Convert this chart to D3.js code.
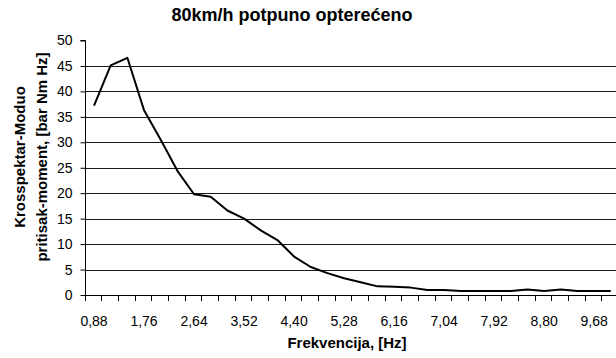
<!DOCTYPE html>
<html>
<head>
<meta charset="utf-8">
<script src="https://cdn.jsdelivr.net/npm/d3@7/dist/d3.min.js"></script>
<style>
  html, body { margin: 0; padding: 0; background: #fff; }
  svg { display: block; font-family: "Liberation Sans", Arial, sans-serif; }
</style>
</head>
<body>
<svg id="chart" width="616" height="358"></svg>
<script>
// Frequency bins [Hz]
const frequencies = [
  0.88, 1.17, 1.47, 1.76, 2.05, 2.35, 2.64, 2.93, 3.23, 3.52, 3.81, 4.11,
  4.40, 4.69, 4.99, 5.28, 5.57, 5.87, 6.16, 6.45, 6.75, 7.04, 7.33, 7.63,
  7.92, 8.21, 8.51, 8.80, 9.09, 9.39, 9.68, 9.97
];
// Cross-spectrum magnitude, pressure vs. torque [bar Nm Hz]
const crossSpectrum = [
  37.2, 45.1, 46.6, 36.3, 30.5, 24.4, 19.8, 19.3, 16.6, 15.0, 12.7, 10.8,
  7.55, 5.5, 4.3, 3.3, 2.5, 1.7, 1.6, 1.45, 1.0, 1.0, 0.8, 0.8,
  0.8, 0.8, 1.1, 0.8, 1.1, 0.8, 0.8, 0.8
];
const yTicks = [0, 5, 10, 15, 20, 25, 30, 35, 40, 45, 50];
const labelEvery = 3;

const title = "80km/h potpuno opterećeno";
const xTitle = "Frekvencija, [Hz]";
const yTitleLines = ["Krosspektar-Moduo", "pritisak-moment, [bar Nm Hz]"];

const svg = d3.select("#chart");
const left = 85.7, step = 16.67, n = frequencies.length;

const x = d3.scaleBand()
  .domain(d3.range(n))
  .range([left, left + n * step])
  .padding(0);
const y = d3.scaleLinear().domain([0, 50]).range([295, 40.5]);

const fmt = v => v.toFixed(2).replace(".", ",");

// horizontal gridlines
svg.append("g")
  .selectAll("line")
  .data(yTicks.filter(t => t > 0 && t < 50))
  .join("line")
  .attr("x1", left).attr("x2", 616)
  .attr("y1", d => Math.round(y(d)) + 0.5)
  .attr("y2", d => Math.round(y(d)) + 0.5)
  .attr("stroke", "#1a1a1a")
  .attr("stroke-width", 1);

// y axis
const yAxis = svg.append("g")
  .attr("transform", `translate(${Math.round(left) - 0.5},0)`)
  .call(d3.axisLeft(y).tickValues(yTicks).tickSize(5).tickPadding(8).tickFormat(d3.format("d")));
yAxis.select(".domain").attr("stroke", "#000");
yAxis.selectAll(".tick line").attr("stroke", "#000");
yAxis.selectAll("text")
  .attr("font-size", 14)
  .attr("font-family", "Liberation Sans, Arial, sans-serif")
  .attr("fill", "#000");
yAxis.select(".domain").attr("d", `M-5,${y(50)}H0V${y(0)}`);

// x axis line and category ticks
const xg = svg.append("g");
xg.append("line")
  .attr("x1", left).attr("x2", 616)
  .attr("y1", Math.round(y(0)) + 0.5).attr("y2", Math.round(y(0)) + 0.5)
  .attr("stroke", "#000");
xg.selectAll("line.tick")
  .data(d3.range(n + 1))
  .join("line")
  .attr("class", "tick")
  .attr("x1", i => Math.round(left + i * step) - 0.5)
  .attr("x2", i => Math.round(left + i * step) - 0.5)
  .attr("y1", Math.round(y(0)))
  .attr("y2", Math.round(y(0)) + 6)
  .attr("stroke", "#000");
xg.selectAll("text")
  .data(d3.range(0, n, labelEvery))
  .join("text")
  .attr("x", i => x(i) + x.bandwidth() / 2)
  .attr("y", 325.5)
  .attr("text-anchor", "middle")
  .attr("font-size", 14)
  .text(i => fmt(frequencies[i]));

// data line
const line = d3.line()
  .x((d, i) => x(i) + x.bandwidth() / 2)
  .y(d => y(d));
svg.append("path")
  .datum(crossSpectrum)
  .attr("d", line)
  .attr("fill", "none")
  .attr("stroke", "#000")
  .attr("stroke-width", 2)
  .attr("stroke-linejoin", "round");

// titles
svg.append("text")
  .attr("x", 292).attr("y", 21)
  .attr("text-anchor", "middle")
  .attr("font-size", 18).attr("font-weight", "bold")
  .text(title);

svg.append("text")
  .attr("x", 347).attr("y", 348)
  .attr("text-anchor", "middle")
  .attr("font-size", 15).attr("font-weight", "bold")
  .text(xTitle);

svg.append("g")
  .selectAll("text")
  .data(yTitleLines)
  .join("text")
  .attr("transform", (d, i) => `translate(${24.5 + i * 22},157) rotate(-90)`)
  .attr("text-anchor", "middle")
  .attr("font-size", 15).attr("font-weight", "bold")
  .text(d => d);
</script>
</body>
</html>
